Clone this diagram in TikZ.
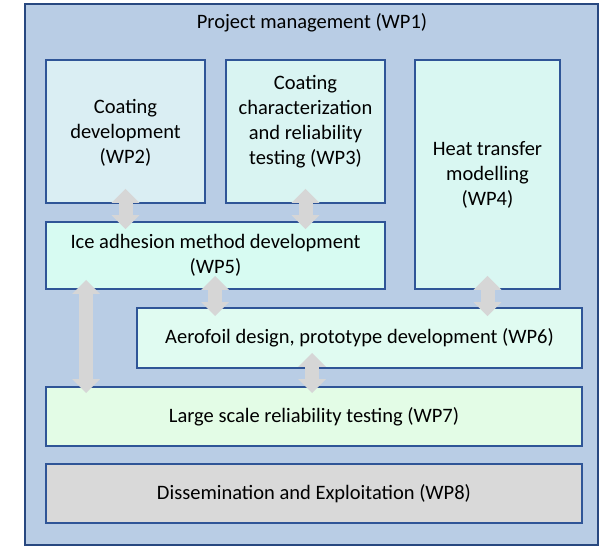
\documentclass[tikz,border=0pt]{standalone}
\usepackage{fontspec}
\setmainfont{Carlito}
\usetikzlibrary{arrows.meta}

\definecolor{wpouter}{HTML}{B9CDE5}
\definecolor{wpline}{HTML}{2F5597}
\definecolor{wptwo}{HTML}{DAEEF3}
\definecolor{wpthree}{HTML}{D9F4F2}
\definecolor{wpfour}{HTML}{D9F7F2}
\definecolor{wpfive}{HTML}{D7FBF2}
\definecolor{wpsix}{HTML}{E0FBF1}
\definecolor{wpseven}{HTML}{E3FCE6}
\definecolor{wpeight}{HTML}{D9D9D9}
\definecolor{arrowgray}{HTML}{D6D6D6}

\tikzset{
  wpfont/.style={font=\fontsize{20.5}{25}\selectfont},
  wpbox/.style={draw=wpline, line width=1.8pt, inner sep=0pt, align=center, wpfont},
  linkarrow/.style={draw=arrowgray, line width=14pt,
    {Triangle[width=27pt,length=14pt]}-{Triangle[width=27pt,length=14pt]}}
}

\begin{document}
\begin{tikzpicture}[x=1pt, y=-1pt]
\useasboundingbox (0,0) rectangle (602,548);
% Outer frame for WP1
\node[wpbox, fill=wpouter, draw=wpline!85!black, minimum width=573pt, minimum height=541pt] (wp1) at (311.5,274.5) {};
\node[wpfont] (wp1title) at (312,23) {Project management (WP1)};
% Work packages
\node[wpbox, fill=wptwo, minimum width=159pt, minimum height=143pt] (wp2) at (125.5,131.5) {}; % Coating development
\node[wpfont, align=center] (wp2text) at (125.5,133) {Coating\\development\\(WP2)};
\node[wpbox, fill=wpthree, minimum width=159pt, minimum height=143pt] (wp3) at (305.5,131.5) {}; % Characterization
\node[wpfont, align=center] (wp3text) at (305.5,121.5) {Coating\\characterization\\and reliability\\testing (WP3)};
\node[wpbox, fill=wpfour, minimum width=145pt, minimum height=229pt] (wp4) at (487.5,174.5) {Heat transfer\\modelling\\(WP4)};
\node[wpbox, fill=wpfive, minimum width=339pt, minimum height=67pt] (wp5) at (215.5,255.5) {Ice adhesion method development\\(WP5)};
\node[wpbox, fill=wpsix, minimum width=445pt, minimum height=60pt] (wp6) at (359.5,338) {Aerofoil design, prototype development (WP6)};
\node[wpbox, fill=wpseven, minimum width=536pt, minimum height=59pt] (wp7) at (314,416.5) {Large scale reliability testing (WP7)};
\node[wpbox, fill=wpeight, minimum width=536pt, minimum height=59pt] (wp8) at (314,493.5) {Dissemination and Exploitation (WP8)};
% Links between work packages
\draw[linkarrow, shorten <=-15pt, shorten >=-8pt] (wp2.south) -- (wp2.south |- wp5.north); % WP2 - WP5
\draw[linkarrow, shorten <=-15pt, shorten >=-8pt] (wp3.south) -- (wp3.south |- wp5.north); % WP3 - WP5
\draw[linkarrow, shorten <=-14pt, shorten >=-9pt] (wp4.south) -- (wp4.south |- wp6.north); % WP4 - WP6
\draw[linkarrow, shorten <=-14pt, shorten >=-9pt] ([xshift=79pt]wp6.north west |- wp5.south) -- ([xshift=79pt]wp6.north west); % WP5 - WP6
\draw[linkarrow, shorten <=-10pt, shorten >=-7pt] ([xshift=41pt]wp5.south west) -- ([xshift=41pt]wp5.south west |- wp7.north); % WP5 - WP7
\draw[linkarrow, shorten <=-16pt, shorten >=-7pt] ([xshift=267pt]wp7.north west |- wp6.south) -- ([xshift=267pt]wp7.north west); % WP6 - WP7
\end{tikzpicture}
\end{document}
